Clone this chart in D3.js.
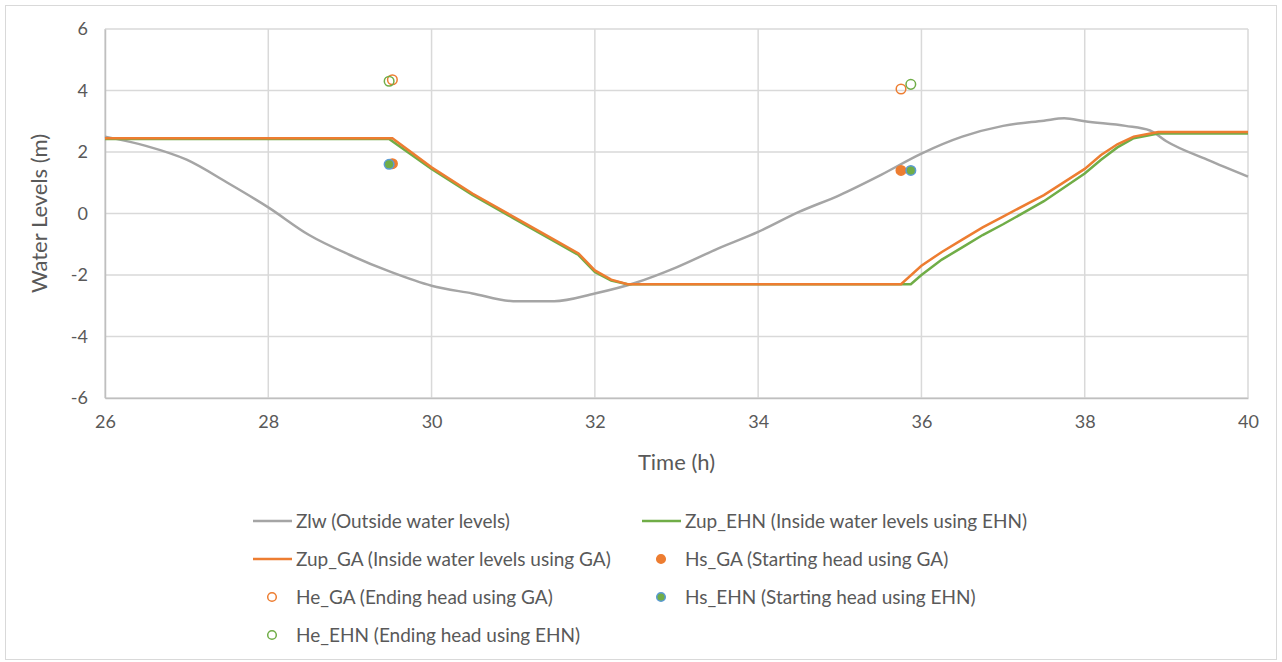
<!DOCTYPE html>
<html>
<head>
<meta charset="utf-8">
<script src="https://cdn.jsdelivr.net/npm/d3@7"></script>
<style>
  body { margin: 0; background: #fff; }
  text { font-family: Lato, "Open Sans", sans-serif; fill: #595959; }
</style>
</head>
<body>
<div id="chart"></div>
<script>
// outside water levels
var zlwTime = [26, 26.5, 27, 27.5, 28, 28.5, 29, 29.5, 30, 30.5, 31, 31.5, 32, 32.5, 33, 33.5, 34, 34.5, 35, 35.5, 36, 36.5, 37, 37.5, 37.75, 38, 38.5, 38.8, 39, 39.5, 40];
var zlwLevel = [2.5, 2.2, 1.75, 1.0, 0.2, -0.7, -1.35, -1.9, -2.35, -2.6, -2.85, -2.85, -2.6, -2.25, -1.75, -1.15, -0.6, 0.05, 0.6, 1.25, 1.95, 2.5, 2.85, 3.02, 3.1, 3.0, 2.85, 2.7, 2.35, 1.75, 1.2];

// inside water levels using GA
var gaTime = [26, 29.52, 30, 30.5, 31, 31.5, 31.8, 32, 32.2, 32.4, 35.75, 36, 36.25, 36.5, 36.75, 37, 37.5, 38, 38.2, 38.4, 38.6, 38.9, 40];
var gaLevel = [2.45, 2.45, 1.5, 0.65, -0.1, -0.85, -1.3, -1.85, -2.15, -2.3, -2.3, -1.7, -1.25, -0.85, -0.45, -0.1, 0.6, 1.45, 1.9, 2.25, 2.5, 2.65, 2.65];

// inside water levels using EHN
var ehnTime = [26, 29.48, 30, 30.5, 31, 31.5, 31.8, 32, 32.2, 32.4, 35.87, 36, 36.25, 36.5, 36.75, 37, 37.5, 38, 38.2, 38.4, 38.6, 38.9, 40];
var ehnLevel = [2.42, 2.42, 1.45, 0.6, -0.15, -0.9, -1.35, -1.9, -2.18, -2.3, -2.3, -2.0, -1.5, -1.1, -0.7, -0.35, 0.4, 1.3, 1.75, 2.15, 2.45, 2.6, 2.6];

// starting / ending heads
var hsGA = [[29.52, 1.62], [35.75, 1.4]];
var heGA = [[29.52, 4.35], [35.75, 4.05]];
var hsEHN = [[29.48, 1.6], [35.87, 1.4]];
var heEHN = [[29.48, 4.3], [35.87, 4.2]];

var xTicks = [26, 28, 30, 32, 34, 36, 38, 40];
var yTicks = [-6, -4, -2, 0, 2, 4, 6];

var gray = "#A5A5A5", orange = "#ED7D31", green = "#70AD47", blue = "#5B9BD5";

var W = 1282, H = 662;
var margin = {top: 29, right: 34, bottom: 264, left: 105},
    width = W - margin.left - margin.right,
    height = H - margin.top - margin.bottom;

var svg = d3.select("#chart").append("svg")
    .attr("width", W)
    .attr("height", H);

svg.append("rect")
    .attr("x", 5.5).attr("y", 5.5)
    .attr("width", W - 11).attr("height", H - 8)
    .attr("fill", "#fff")
    .attr("stroke", "#D9D9D9");

var g = svg.append("g")
    .attr("transform", "translate(" + margin.left + "," + margin.top + ")");

var x = d3.scaleLinear().domain([26, 40]).range([0, width]);
var y = d3.scaleLinear().domain([-6, 6]).range([height, 0]);

// grid
g.selectAll(".hgrid")
  .data(yTicks)
  .enter().append("line")
    .attr("x1", 0).attr("x2", width)
    .attr("y1", function(d) { return y(d); })
    .attr("y2", function(d) { return y(d); })
    .attr("stroke", "#D9D9D9").attr("stroke-width", 1.5);

g.selectAll(".vgrid")
  .data(xTicks)
  .enter().append("line")
    .attr("y1", 0).attr("y2", height)
    .attr("x1", function(d) { return x(d); })
    .attr("x2", function(d) { return x(d); })
    .attr("stroke", "#D9D9D9").attr("stroke-width", 1.5);

// axes
var fmt = function(d) { return String(d); };
var xAxis = g.append("g")
    .attr("transform", "translate(0," + height + ")")
    .call(d3.axisBottom(x).tickValues(xTicks).tickFormat(fmt).tickSize(0).tickPadding(17));
var yAxis = g.append("g")
    .call(d3.axisLeft(y).tickValues(yTicks).tickFormat(fmt).tickSize(0).tickPadding(17));
[xAxis, yAxis].forEach(function(a) {
  a.select(".domain").attr("stroke", "#BFBFBF").attr("stroke-width", 1.5);
  a.selectAll("text").style("font-size", "18px").attr("fill", "#595959");
});

g.append("text")
    .attr("x", width / 2)
    .attr("y", height + 72)
    .attr("text-anchor", "middle")
    .style("font-size", "22px")
    .text("Time (h)");

g.append("text")
    .attr("transform", "rotate(-90)")
    .attr("x", -y(0))
    .attr("y", -58)
    .attr("text-anchor", "middle")
    .style("font-size", "22px")
    .text("Water Levels (m)");

// lines
var line = d3.line()
    .x(function(d) { return x(d[0]); })
    .y(function(d) { return y(d[1]); });

function pairs(t, v) { return t.map(function(d, i) { return [d, v[i]]; }); }

g.append("path").datum(pairs(zlwTime, zlwLevel))
    .attr("d", line.curve(d3.curveMonotoneX))
    .attr("fill", "none").attr("stroke", gray).attr("stroke-width", 2.5);

line.curve(d3.curveLinear);
g.append("path").datum(pairs(ehnTime, ehnLevel))
    .attr("d", line)
    .attr("fill", "none").attr("stroke", green).attr("stroke-width", 2.5);
g.append("path").datum(pairs(gaTime, gaLevel))
    .attr("d", line)
    .attr("fill", "none").attr("stroke", orange).attr("stroke-width", 2.5);

// markers
function dots(data, fill, stroke) {
  g.selectAll(null)
    .data(data)
    .enter().append("circle")
      .attr("cx", function(d) { return x(d[0]); })
      .attr("cy", function(d) { return y(d[1]); })
      .attr("r", 4.8)
      .attr("fill", fill)
      .attr("stroke", stroke)
      .attr("stroke-width", 1.5);
}
dots(heGA, "none", orange);
dots(heEHN, "none", green);
dots(hsGA, orange, orange);
dots(hsEHN, green, blue);

// legend
var legend = [
  {label: "Zlw (Outside water levels)", type: "line", color: gray, col: 0, row: 0},
  {label: "Zup_EHN (Inside water levels using EHN)", type: "line", color: green, col: 1, row: 0},
  {label: "Zup_GA (Inside water levels using GA)", type: "line", color: orange, col: 0, row: 1},
  {label: "Hs_GA (Starting head using GA)", type: "dot", fill: orange, color: orange, col: 1, row: 1},
  {label: "He_GA (Ending head using GA)", type: "dot", fill: "none", color: orange, col: 0, row: 2},
  {label: "Hs_EHN (Starting head using EHN)", type: "dot", fill: green, color: blue, col: 1, row: 2},
  {label: "He_EHN (Ending head using EHN)", type: "dot", fill: "none", color: green, col: 0, row: 3}
];
var colX = [253, 642];
var lg = svg.append("g");
legend.forEach(function(d) {
  var lx = colX[d.col], ly = 521 + d.row * 38;
  if (d.type === "line") {
    lg.append("line")
      .attr("x1", lx).attr("x2", lx + 39)
      .attr("y1", ly).attr("y2", ly)
      .attr("stroke", d.color).attr("stroke-width", 2.5);
  } else {
    lg.append("circle")
      .attr("cx", lx + 19).attr("cy", ly).attr("r", 4.3)
      .attr("fill", d.fill).attr("stroke", d.color).attr("stroke-width", 1.5);
  }
  lg.append("text")
    .attr("x", lx + 43)
    .attr("y", ly)
    .attr("dy", "0.35em")
    .style("font-size", "19px")
    .text(d.label);
});
</script>
</body>
</html>
